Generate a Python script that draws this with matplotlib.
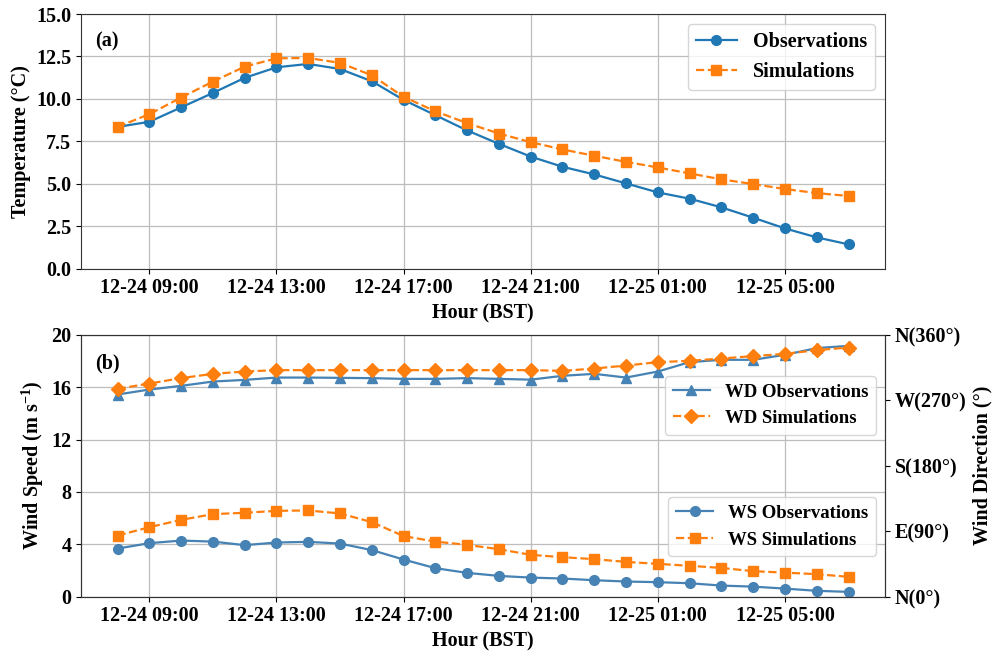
import matplotlib
matplotlib.use("Agg")
import matplotlib.pyplot as plt
import matplotlib.dates as mdates
import numpy as np
import pandas as pd

plt.rcParams['font.family'] = ['Liberation Serif', 'DejaVu Serif']
plt.rcParams['font.weight'] = 'bold'
plt.rcParams['axes.labelweight'] = 'bold'
plt.rcParams['mathtext.fontset'] = 'custom'
plt.rcParams['mathtext.rm'] = 'Liberation Serif:bold'
plt.rcParams['mathtext.default'] = 'rm'

hours = pd.date_range('2023-12-24 08:00', periods=24, freq='h')

temp_obs = [8.35, 8.65, 9.5, 10.35, 11.24, 11.86, 12.06, 11.76, 11.04, 9.94,
            9.04, 8.14, 7.35, 6.6, 6.0, 5.55, 5.02, 4.49, 4.12, 3.61,
            3.0, 2.37, 1.84, 1.43]
temp_sim = [8.35, 9.1, 10.08, 11.02, 11.9, 12.39, 12.41, 12.12, 11.39, 10.12,
            9.27, 8.57, 7.96, 7.45, 7.02, 6.65, 6.29, 5.96, 5.61, 5.26,
            4.98, 4.69, 4.45, 4.28]

ws_obs = [3.67, 4.08, 4.28, 4.2, 3.93, 4.13, 4.18, 4.05, 3.55, 2.83,
          2.17, 1.81, 1.58, 1.45, 1.38, 1.25, 1.15, 1.1, 1.02, 0.84,
          0.76, 0.61, 0.44, 0.36]
ws_sim = [4.66, 5.3, 5.86, 6.3, 6.4, 6.55, 6.58, 6.35, 5.69, 4.62,
          4.2, 3.95, 3.62, 3.19, 3.01, 2.86, 2.65, 2.5, 2.35, 2.19,
          1.94, 1.83, 1.71, 1.51]

wd_obs = [277.9, 284.7, 289.8, 295.7, 298.0, 301.2, 301.2, 300.8, 300.4, 299.4,
          299.4, 300.4, 299.4, 298.3, 303.6, 306.3, 301.2, 309.5, 322.4, 325.6,
          325.6, 332.5, 341.7, 344.8]
wd_sim = [285.7, 293.0, 300.4, 306.3, 309.5, 311.4, 311.4, 311.4, 311.4, 311.4,
          311.4, 311.4, 311.4, 311.4, 310.4, 313.6, 317.7, 322.4, 324.2, 327.4,
          330.7, 333.8, 338.9, 342.5]

dir_ticks = [0, 90, 180, 270, 360]
dir_labels = ['N(0°)', 'E(90°)', 'S(180°)', 'W(270°)', 'N(360°)']

BLUE = '#1f77b4'
STEEL = '#4682b4'
ORANGE = '#ff7f0e'
FS = 14.5

fig = plt.figure(figsize=(9.93, 6.52), dpi=100)
ax1 = fig.add_axes([0.0816, 0.588, 0.8097, 0.3905])
ax2 = fig.add_axes([0.0816, 0.085, 0.8097, 0.4015])


def style_time_axis(ax):
    ax.xaxis.set_major_locator(mdates.HourLocator(byhour=[1, 5, 9, 13, 17, 21]))
    ax.xaxis.set_major_formatter(mdates.DateFormatter('%m-%d %H:%M'))
    ax.grid(True, color='#bdbdbd', linewidth=0.9)
    ax.set_axisbelow(True)
    ax.tick_params(labelsize=FS)
    ax.set_xlabel('Hour (BST)', fontsize=FS)
    for s in ax.spines.values():
        s.set_color('#333333')


# (a) temperature
ax1.plot(hours, temp_obs, '-o', color=BLUE, lw=1.6, ms=7, label='Observations')
ax1.plot(hours, temp_sim, '--s', color=ORANGE, lw=1.6, ms=7, label='Simulations')
ax1.set_ylim(0, 15)
ax1.set_yticks(np.arange(0, 15.1, 2.5))
ax1.set_ylabel('Temperature (°C)', fontsize=FS)
style_time_axis(ax1)
ax1.text(0.018, 0.93, '(a)', transform=ax1.transAxes, fontsize=FS, va='top')
ax1.legend(loc='upper right', fontsize=FS)

# (b) wind speed and direction
l1, = ax2.plot(hours, ws_obs, '-o', color=STEEL, lw=1.6, ms=7, label='WS Observations')
l2, = ax2.plot(hours, ws_sim, '--s', color=ORANGE, lw=1.6, ms=7, label='WS Simulations')
ax2.set_ylim(0, 20)
ax2.set_yticks([0, 4, 8, 12, 16, 20])
ax2.set_ylabel('Wind Speed (m s$^{-1}$)', fontsize=FS)
style_time_axis(ax2)
ax2.text(0.018, 0.93, '(b)', transform=ax2.transAxes, fontsize=FS, va='top')

ax3 = ax2.twinx()
l3, = ax3.plot(hours, wd_obs, '-^', color=STEEL, lw=1.6, ms=7, label='WD Observations')
l4, = ax3.plot(hours, wd_sim, '--D', color=ORANGE, lw=1.6, ms=7, label='WD Simulations')
ax3.set_ylim(0, 360)
ax3.set_yticks(dir_ticks)
ax3.set_yticklabels(dir_labels)
ax3.tick_params(labelsize=FS)
ax3.set_ylabel('Wind Direction (°)', fontsize=FS)
for s in ax3.spines.values():
    s.set_color('#333333')

leg_wd = ax3.legend(handles=[l3, l4], loc='upper right', borderaxespad=0,
                    bbox_to_anchor=(0.989, 0.843), fontsize=FS - 1)
ax3.add_artist(leg_wd)
ax3.legend(handles=[l1, l2], loc='lower right', borderaxespad=0,
           bbox_to_anchor=(0.989, 0.155), fontsize=FS - 1)

fig.savefig('out.png', dpi=100)
